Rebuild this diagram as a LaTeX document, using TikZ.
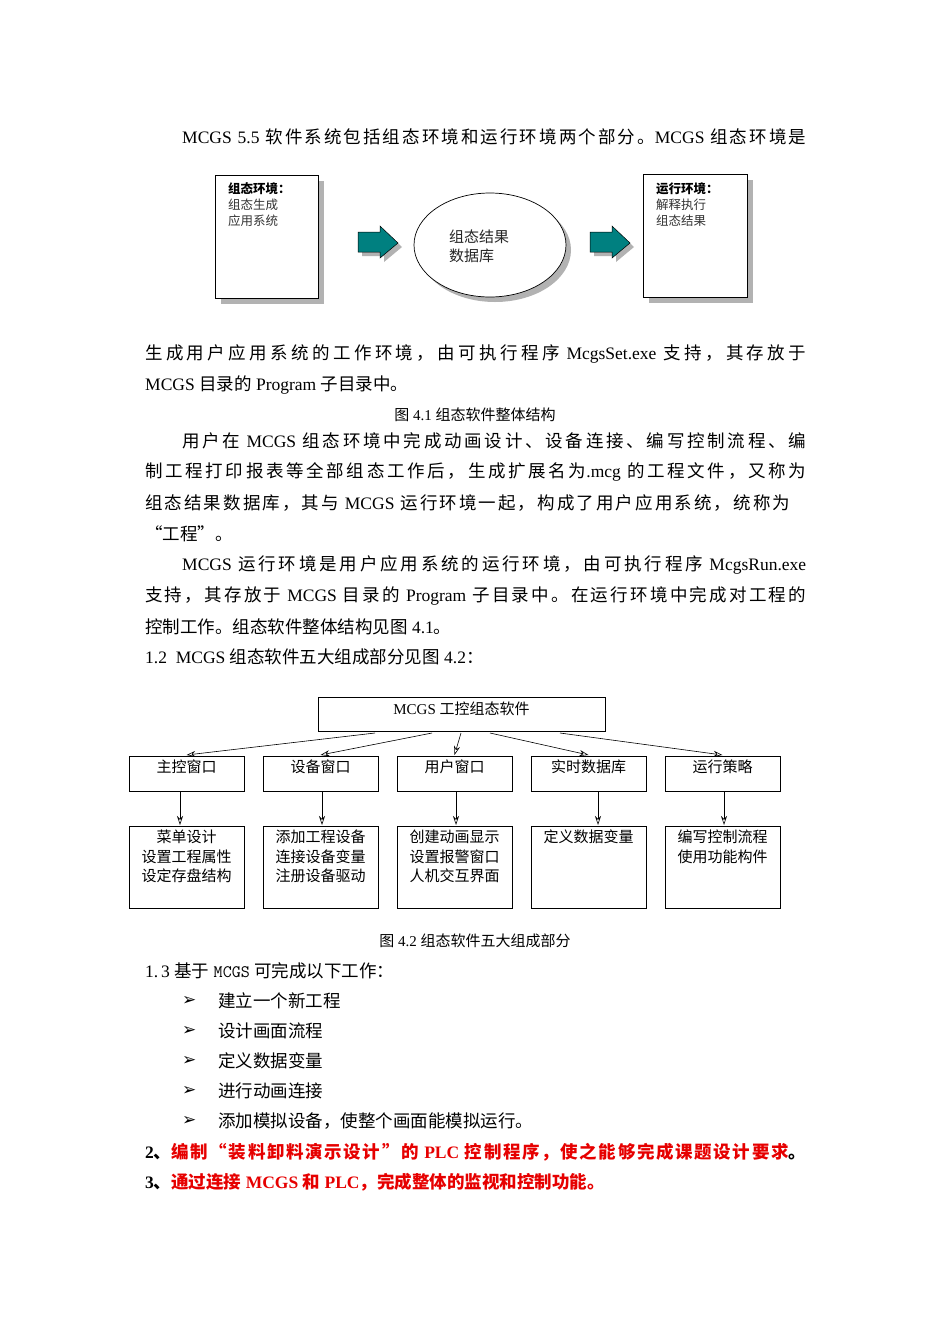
\documentclass[tikz,border=0pt]{standalone}
\usepackage{fontspec}
\setmainfont{Liberation Serif}
\newfontfamily\cjk{Noto Sans CJK SC}
\newfontfamily\djv{DejaVu Sans}
\usetikzlibrary{arrows.meta,shapes.geometric}
\XeTeXinterchartokenstate=1
\newXeTeXintercharclass\CJKcls
\count255="4E00 \loop \XeTeXcharclass\count255=\CJKcls \ifnum\count255<"9FFF \advance\count255 1 \repeat
\count255="3000 \loop \XeTeXcharclass\count255=\CJKcls \ifnum\count255<"303F \advance\count255 1 \repeat
\count255="FF00 \loop \XeTeXcharclass\count255=\CJKcls \ifnum\count255<"FFEF \advance\count255 1 \repeat
\XeTeXcharclass"201C=\CJKcls \XeTeXcharclass"201D=\CJKcls
\XeTeXinterchartoks 0 \CJKcls = {\begingroup\cjk}
\XeTeXinterchartoks 4095 \CJKcls = {\begingroup\cjk}
\XeTeXinterchartoks \CJKcls 0 = {\endgroup}
\XeTeXinterchartoks \CJKcls 4095 = {\endgroup}
\XeTeXinterchartoks \CJKcls \CJKcls = {\hskip0pt plus 3pt\relax}
\newcommand{\jline}[2]{\makebox[#1pt][s]{#2}}
\definecolor{teal1}{RGB}{0,128,128}
\definecolor{redtxt}{RGB}{230,0,0}
\begin{document}
\begin{tikzpicture}[x=1pt,y=-1pt,
  body/.style={anchor=west,inner sep=0pt,font=\fontsize{17.5}{20}\selectfont},
  small/.style={anchor=west,inner sep=0pt,font=\fontsize{12.5}{16}\selectfont},
  captxt/.style={inner sep=0pt,font=\fontsize{15}{18}\selectfont},
  bx/.style={draw,line width=0.7pt,fill=white},
  arr/.style={-{Stealth[open,length=9pt,width=6pt]},line width=0.6pt},
  fat/.style={fill=teal1,draw=black,line width=0.5pt}]
\useasboundingbox (0,0) rectangle (950,1344);
\node[body] (l1) at (182,137) {\jline{624}{MCGS 5.5 软件系统包括组态环境和运行环境两个部分。MCGS 组态环境是}};
% diagram 1
\fill[gray!60] (221,181) rectangle (324,304);
\draw[bx] (215,175) rectangle (318,298);
\node[small] (a1) at (228,189) {\bfseries 组态环境：};
\node[small,gray!40!black] (a2) at (228,205) {组态生成};
\node[small,gray!40!black] (a3) at (228,221) {应用系统};
\fill[gray!60] (495,250) ellipse (76 and 52);
\draw[bx] (490,245) ellipse (76 and 52);
\node[anchor=west,inner sep=0pt,font=\fontsize{15}{18}\selectfont,gray!30!black] (e1) at (449,237) {组态结果};
\node[anchor=west,inner sep=0pt,font=\fontsize{15}{18}\selectfont,gray!30!black] (e2) at (449,256) {数据库};
\foreach \x in {358,590}{
 \fill[gray!60] (\x+4,236)--(\x+26,236)--(\x+26,230)--(\x+44,247)--(\x+26,262)--(\x+26,256)--(\x+4,256)--cycle;
 \draw[fat] (\x,232)--(\x+22,232)--(\x+22,226)--(\x+40,243)--(\x+22,258)--(\x+22,252)--(\x,252)--cycle;}
\fill[gray!60] (649,180) rectangle (753,303);
\draw[bx] (643,174) rectangle (747,297);
\node[small] (b1) at (656,189) {\bfseries 运行环境：};
\node[small,gray!40!black] (b2) at (656,205) {解释执行};
\node[small,gray!40!black] (b3) at (656,221) {组态结果};
% text
\node[body] (l2) at (145,354) {\jline{661}{生成用户应用系统的工作环境，由可执行程序 McgsSet.exe 支持，其存放于}};
\node[body] (l3) at (145,385) {MCGS 目录的 Program 子目录中。};
\node[captxt] (c1) at (475,415) {图 4.1 组态软件整体结构};
\node[body] (l4) at (182,441) {\jline{624}{用户在 MCGS 组态环境中完成动画设计、设备连接、编写控制流程、编}};
\node[body] (l5) at (145,472) {\jline{661}{制工程打印报表等全部组态工作后，生成扩展名为.mcg 的工程文件，又称为}};
\node[body] (l6) at (145,503) {\jline{645}{组态结果数据库，其与 MCGS 运行环境一起，构成了用户应用系统，统称为}};
\node[body] (l7) at (145,534) {“工程”。};
\node[body] (l8) at (182,565) {\jline{624}{MCGS 运行环境是用户应用系统的运行环境，由可执行程序 McgsRun.exe}};
\node[body] (l9) at (145,596) {\jline{661}{支持，其存放于 MCGS 目录的 Program 子目录中。在运行环境中完成对工程的}};
\node[body] (l10) at (145,627) {控制工作。组态软件整体结构见图 4.1。};
\node[body] (l11) at (145,657) {1.2\ \ MCGS 组态软件五大组成部分见图 4.2：};
% diagram 2
\draw[bx] (318,697) rectangle (605,731);
\node[captxt] (top) at (461.5,709) {MCGS 工控组态软件};
\foreach \i/\xa/\xs/\txt/\xv in {1/129/375/主控窗口/180,2/263/432/设备窗口/322,3/397/461/用户窗口/456,4/531/490/实时数据库/598,5/665/560/运行策略/724}{
  \draw[bx] (\xa,756) rectangle (\xa+115,791);
  \node[captxt] (m\i) at (\xa+57.5,767) {\txt};
  \coordinate (s\i) at (\xs,733);
  \coordinate (e\i) at (\xa+57.5,755);
  \draw[arr] (s\i) -- (e\i);
  \draw[bx] (\xa,826) rectangle (\xa+115,908);
  \coordinate (v\i) at (\xv,792);
  \coordinate (w\i) at (\xv,825);
  \draw[arr] (v\i) -- (w\i);
}
\node[captxt] (n1) at (186.5,837) {菜单设计};
\node[captxt] (n1b) at (186.5,857) {设置工程属性};
\node[captxt] (n1c) at (186.5,876) {设定存盘结构};
\node[captxt] (n2) at (320.5,837) {添加工程设备};
\node[captxt] (n2b) at (320.5,857) {连接设备变量};
\node[captxt] (n2c) at (320.5,876) {注册设备驱动};
\node[captxt] (n3) at (454.5,837) {创建动画显示};
\node[captxt] (n3b) at (454.5,857) {设置报警窗口};
\node[captxt] (n3c) at (454.5,876) {人机交互界面};
\node[captxt] (n4) at (588.5,837) {定义数据变量};
\node[captxt] (n5) at (722.5,837) {编写控制流程};
\node[captxt] (n5b) at (722.5,857) {使用功能构件};
\node[captxt] (c2) at (475,941) {图 4.2 组态软件五大组成部分};
\node[body] (l12) at (145,971) {1.\,3 基于 {\ttfamily MCGS} 可完成以下工作：};
\foreach \y/\t in {1001/建立一个新工程,1031/设计画面流程,1061/定义数据变量,1091/进行动画连接,1121/添加模拟设备，使整个画面能模拟运行。}{
  \node[body,font=\djv\fontsize{17}{18}\selectfont] at (182,\y) {➢};
  \node[body] at (218,\y) {\t};
}
\node[body,font=\fontsize{17.5}{20}\selectfont\bfseries] (r1) at (145,1152) {\jline{661}{2、\textcolor{redtxt}{编制“装料卸料演示设计”的 PLC 控制程序，使之能够完成课题设计要求}。}};
\node[body,font=\fontsize{17.5}{20}\selectfont\bfseries] (r2) at (145,1182) {3、\textcolor{redtxt}{通过连接 MCGS 和 PLC，完成整体的监视和控制功能。}};
\end{tikzpicture}
\end{document}
